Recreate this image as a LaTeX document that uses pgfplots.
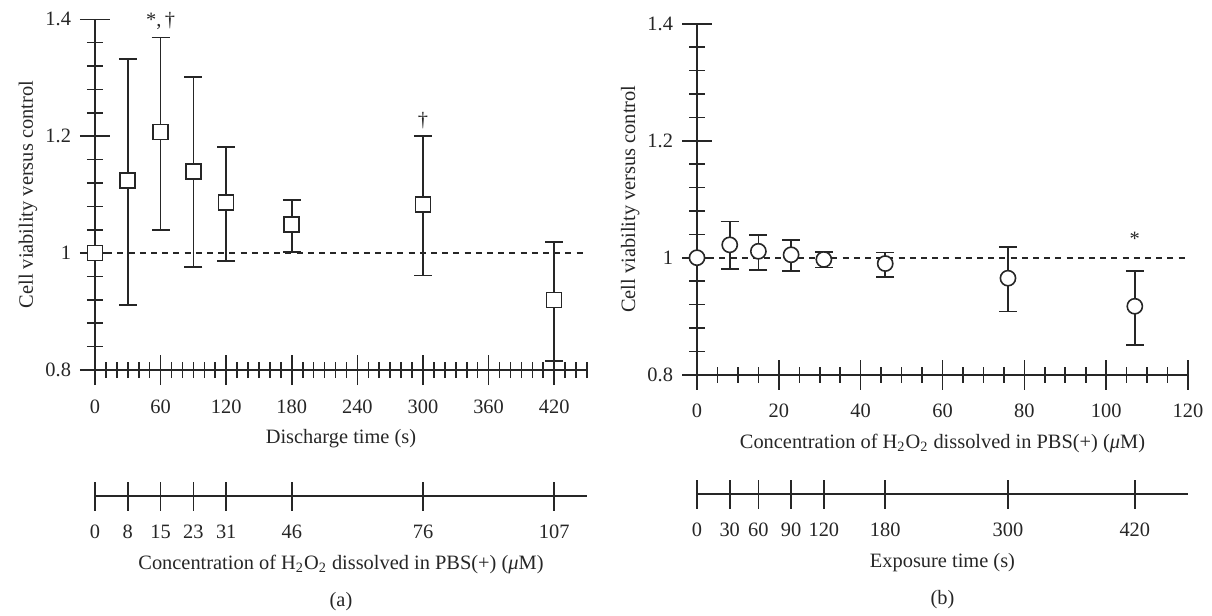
\documentclass[border=0pt]{standalone}
\usepackage{pgfplots}
\pgfplotsset{compat=1.18}
\usepackage{fontspec}
\setmainfont{Liberation Serif}
\definecolor{ink}{HTML}{262626}
\begin{document}
\begin{tikzpicture}
\path[use as bounding box] (0bp,0bp) rectangle (606bp,-308bp);
\pgfplotsset{
  every axis/.append style={
    font=\fontsize{10.2bp}{12bp}\selectfont,
    scale only axis, clip=false,
    axis line style={ink, line width=0.85bp},
    tick style={ink, line width=0.8bp},
    tick align=center,
    major tick length=15bp, minor tick length=8bp,
    /pgf/number format/assume math mode=true,
    tick label style={text=ink},
    label style={text=ink},
    xticklabel style={anchor=base, yshift=-14bp},
    yticklabel style={anchor=east, xshift=-1bp},
  },
  mainax/.style={
    axis x line*=bottom, axis y line*=left,
    ymin=0.8, ymax=1.4,
    ytick={0.8,1,1.2,1.4}, yticklabels={0.8,1,1.2,1.4},
    minor ytick={0.84,0.88,0.92,0.96,1.04,1.08,1.12,1.16,1.24,1.28,1.32,1.36},
    ylabel={Cell viability versus control},
    ylabel style={at={(axis description cs:0,0.5)}, anchor=base, yshift=31bp},
    xlabel style={at={(axis description cs:0.5,0)}, anchor=base, yshift=-36.8bp},
  },
  secax/.style={
    axis x line*=bottom, axis y line=none,
    ymin=0, ymax=1, height=1bp,
    major tick length=14.5bp,
    xlabel style={at={(axis description cs:0.5,0)}, anchor=base, yshift=-36.8bp},
  },
  errs/.style={
    error bars/.cd, y dir=both, y explicit,
    error bar style={ink, line width=0.8bp},
    error mark options={rotate=90, ink, mark size=4.5bp, line width=0.8bp},
  },
}
% ---------------- panel (a)
\begin{axis}[mainax, at={(47.5bp,-185bp)}, anchor=south west, width=246bp, height=175.35bp,
  xmin=0, xmax=450, xtick={0,60,...,420}, minor xtick={0,10,...,450},
  xlabel={Discharge time (s)}]
\addplot[ink, line width=0.8bp, dash pattern=on 3bp off 2.6bp] coordinates {(0,1) (446,1)};
\addplot[only marks, mark=square*, mark size=3.75bp, mark options={fill=white, draw=ink, line width=0.8bp}, errs]
coordinates {
(0,1.000) += (0,0) -= (0,0)
(30,1.124) += (0,0.208) -= (0,0.213)
(60,1.207) += (0,0.162) -= (0,0.167)
(90,1.140) += (0,0.161) -= (0,0.164)
(120,1.087) += (0,0.095) -= (0,0.100)
(180,1.049) += (0,0.042) -= (0,0.047)
(300,1.083) += (0,0.117) -= (0,0.121)
(420,0.920) += (0,0.099) -= (0,0.105)
};
\node[text=ink] at (axis cs:60,1.397) {*,\,†};
\node[text=ink] at (axis cs:300,1.227) {†};
\end{axis}
\begin{axis}[secax, at={(47.5bp,-248bp)}, anchor=south west, width=246bp,
  xmin=0, xmax=450, xtick={0,30,60,90,120,180,300,420},
  xticklabels={0,8,15,23,31,46,76,107},
  xlabel={Concentration of H\textsubscript{2}O\textsubscript{2} dissolved in PBS(+) (\textit{μ}M)}]
\node[text=ink, anchor=base] at (axis description cs:0.5,0) [yshift=-55bp] {(a)};
\end{axis}
% ---------------- panel (b)
\begin{axis}[mainax, at={(348.5bp,-187.35bp)}, anchor=south west, width=245.5bp, height=175.5bp,
  xmin=0, xmax=120, xtick={0,20,...,120}, minor xtick={0,5,...,120},
  xlabel={Concentration of H\textsubscript{2}O\textsubscript{2} dissolved in PBS(+) (\textit{μ}M)}]
\addplot[ink, line width=0.8bp, dash pattern=on 3bp off 2.6bp] coordinates {(0,1) (120,1)};
\addplot[only marks, mark=*, mark size=3.8bp, mark options={fill=white, draw=ink, line width=0.8bp}, errs]
coordinates {
(0,1.000) += (0,0) -= (0,0)
(8,1.022) += (0,0.040) -= (0,0.041)
(15,1.011) += (0,0.028) -= (0,0.032)
(23,1.005) += (0,0.025) -= (0,0.028)
(31,0.997) += (0,0.013) -= (0,0.014)
(46,0.990) += (0,0.019) -= (0,0.023)
(76,0.965) += (0,0.053) -= (0,0.057)
(107,0.917) += (0,0.060) -= (0,0.066)
};
\node[text=ink] at (axis cs:107,1.032) {*};
\end{axis}
\begin{axis}[secax, at={(348.5bp,-247bp)}, anchor=south west, width=245.5bp,
  xmin=0, xmax=120, xtick={0,8,15,23,31,46,76,107},
  xticklabels={0,30,60,90,120,180,300,420},
  xlabel={Exposure time (s)}]
\node[text=ink, anchor=base] at (axis description cs:0.5,0) [yshift=-55bp] {(b)};
\end{axis}
\end{tikzpicture}
\end{document}
